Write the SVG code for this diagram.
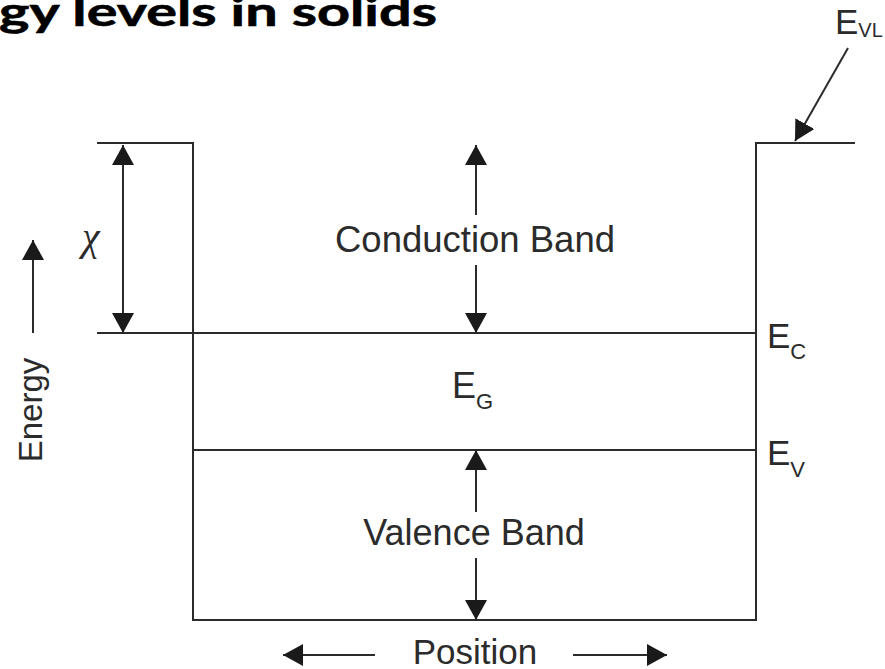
<svg xmlns="http://www.w3.org/2000/svg" width="885" height="669" viewBox="0 0 885 669">
<defs>
<style>
.ln{stroke:#2b2b2b;stroke-width:2;fill:none}
.ar{stroke:#2b2b2b;stroke-width:2;fill:none;marker-end:url(#head)}
.ar2{stroke:#2b2b2b;stroke-width:2;fill:none;marker-start:url(#head);marker-end:url(#head)}
.lb{font-family:"Liberation Sans",Arial,sans-serif;fill:#2b2b2b}
</style>
<marker id="head" viewBox="0 0 20 22" refX="20" refY="11" markerWidth="20" markerHeight="22" markerUnits="userSpaceOnUse" orient="auto-start-reverse">
<path d="M0,0 L20,11 L0,22 z" fill="#1a1a1a"/>
</marker>
</defs>
<rect width="885" height="669" fill="#ffffff"/>
<g id="title">
<text x="-1" y="26" font-family="Lato,'Open Sans',sans-serif" font-weight="bold" font-size="40" fill="#000" stroke="#000" stroke-width="0.6" textLength="438" lengthAdjust="spacingAndGlyphs">gy levels in solids</text>
</g>
<g id="well">
<path class="ln" d="M97,143 H193 V620 H756 V143 H855"/>
</g>
<g id="conduction-edge">
<path class="ln" d="M97,333 H756"/>
<text class="lb" x="767" y="348" font-size="35">E<tspan font-size="22" dy="11">C</tspan></text>
</g>
<g id="valence-edge">
<path class="ln" d="M193,450 H756"/>
<text class="lb" x="767" y="465" font-size="35">E<tspan font-size="22" dy="12">V</tspan></text>
</g>
<g id="vacuum-level">
<text class="lb" x="835" y="34" font-size="35">E<tspan font-size="20" dy="3">VL</tspan></text>
</g>
<g id="conduction-band">
<text class="lb" x="475" y="252" font-size="36.5" text-anchor="middle">Conduction Band</text>
</g>
<g id="band-gap">
<text class="lb" x="452" y="398" font-size="36">E<tspan font-size="22" dy="11">G</tspan></text>
</g>
<g id="valence-band">
<text class="lb" x="474" y="545" font-size="36" text-anchor="middle">Valence Band</text>
</g>
<g id="electron-affinity">
<text x="82" y="250" font-family="'Liberation Serif','Times New Roman',serif" font-style="italic" font-size="40" fill="#2b2b2b">χ</text>
</g>
<g id="energy-axis">
<text class="lb" font-size="33" text-anchor="middle" transform="translate(42,410) rotate(-90)">Energy</text>
</g>
<g id="position-axis">
<text class="lb" x="475" y="664" font-size="35" text-anchor="middle">Position</text>
</g>
<g id="connectors">
<path class="ar2" d="M123,145 V333"/>
<path class="ar" d="M33,333 V240"/>
<path class="ar" d="M476,215 V145"/>
<path class="ar" d="M476,265 V333"/>
<path class="ar" d="M476,512 V450"/>
<path class="ar" d="M476,558 V620"/>
<path class="ar" d="M848,48 L795,141"/>
<path class="ar" d="M375,655 H283"/>
<path class="ar" d="M573,655 H667"/>
</g>
</svg>
